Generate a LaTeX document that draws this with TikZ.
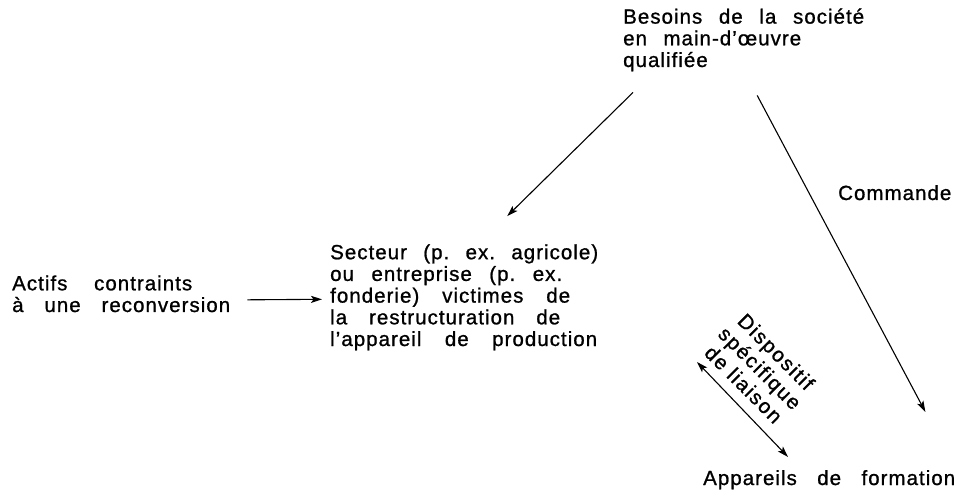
\documentclass[tikz,border=0pt]{standalone}
\usepackage{fontspec}
\setmainfont{Liberation Sans}[LetterSpace=5, FakeBold=1]
\usetikzlibrary{arrows.meta}
\newcommand{\jline}[2]{\makebox[#1][s]{#2}}
\frenchspacing

\begin{document}
\begin{tikzpicture}[x=1pt,y=-1pt,
  >={Stealth[length=11pt,width=7pt,inset=2.5pt]},
  txt/.style={inner sep=0pt, align=left, font=\fontsize{20.5}{21.7}\selectfont},
  arr/.style={line width=1.1pt, ->}]
\useasboundingbox (0,0) rectangle (967,497);

% Text blocks (placed at the baseline of their last line)
\node[txt, anchor=base west] (besoins) at (623,67) {\jline{241pt}{Besoins de la société}\\\jline{178pt}{en main-d'œuvre}\\qualifiée};
\node[txt, anchor=base west] (actifs) at (12,312) {\jline{180pt}{Actifs contraints}\\\jline{218pt}{à une reconversion}};
\node[txt, anchor=base west] (secteur) at (330,346) {\jline{268pt}{Secteur (p. ex. agricole)}\\\jline{232pt}{ou entreprise (p. ex.}\\\jline{240pt}{fonderie) victimes de}\\\jline{230pt}{la restructuration de}\\\jline{267pt}{l'appareil de production}};
\node[txt, anchor=base west] (commande) at (838,200) {Commande};
\node[txt, anchor=base west] (appareils) at (703,485) {\jline{252pt}{Appareils de formation}};
\node[txt, align=center, rotate=-45, font=\fontsize{20.5}{23}\selectfont\addfontfeatures{LetterSpace=8}] (dispositif) at (760,368) {Dispositif\\spécifique\\de liaison};

% Arrows
\draw[arr] ([xshift=10pt,yshift=-21pt]besoins.south west) -- ([xshift=43pt,yshift=28pt]secteur.north);
\draw[arr] ([xshift=13.5pt,yshift=-24pt]besoins.south) -- ([xshift=-30pt,yshift=58pt]appareils.north east);
\draw[arr] ([xshift=17pt,yshift=-6pt]actifs.east) -- ([xshift=-8pt,yshift=-2pt]secteur.west);

% Linking device
\coordinate (liaison) at (697,362);
\draw[arr, <->] (liaison) -- ([xshift=85pt,yshift=13pt]appareils.north west);
\end{tikzpicture}
\end{document}
